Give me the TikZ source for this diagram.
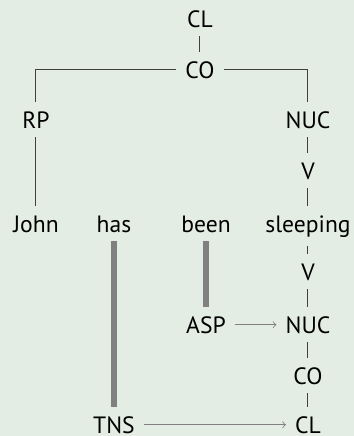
\documentclass[tikz,border=0pt]{standalone}
\usepackage{fontspec}
\setmainfont{PT Sans}
\usepackage{tikz}
\usetikzlibrary{arrows}
\definecolor{paper}{RGB}{228,237,228}
\definecolor{opgray}{RGB}{128,128,128}

\begin{document}
\begin{tikzpicture}[x=0.5pt,y=-0.5pt]
    \tikzstyle{every node}=[anchor=base, inner sep=4.4pt, font=\fontsize{11.8}{14}\selectfont]
    \tikzstyle{tree}=[draw=black!75, line width=0.5pt]
    \tikzstyle{oparrow}=[->, draw=black!50, line width=0.4pt]
    \tikzstyle{opbar}=[draw=opgray, line width=3pt]
    \fill[paper] (0,0) rectangle (354,436);
    \useasboundingbox (0,0) rectangle (354,436);

    % clause layer
    \node (cltop) at (200, 27) {CL};
    \node (cotop) at (200, 78) {CO};
    \node (rp) at (36, 128) {RP};
    \node (nuctop) at (308, 128) {NUC};
    \node (vtop) at (308, 179) {V};

    % the sentence
    \node (john) at (36, 232) {John};
    \node (has) at (114, 232) {has};
    \node (been) at (206, 232) {been};
    \node (sleeping) at (308, 232) {sleeping};

    % operator projection
    \node (vbot) at (308, 280) {V};
    \node (asp) at (206, 333) {ASP};
    \node (nucbot) at (308, 333) {NUC};
    \node (cobot) at (308, 384) {CO};
    \node (tns) at (114, 433) {TNS};
    \node (clbot) at (308, 433) {CL};

    \draw[tree] (cltop) -- (cotop);
    \draw[tree] (cotop.west) -| (rp.north);
    \draw[tree] (cotop.east) -| (nuctop.north);
    \draw[tree] (rp) -- (john);
    \draw[tree] (nuctop) -- (vtop);
    \draw[tree] (vtop) -- (sleeping);

    \draw[tree] (sleeping) -- (vbot);
    \draw[tree] (vbot) -- (nucbot);
    \draw[tree] (nucbot) -- (cobot);
    \draw[tree] (cobot) -- (clbot);

    \draw[opbar] (has) -- (tns);
    \draw[opbar] (been) -- (asp);
    \draw[oparrow] (asp) -- (nucbot);
    \draw[oparrow] (tns) -- (clbot);
\end{tikzpicture}
\end{document}
